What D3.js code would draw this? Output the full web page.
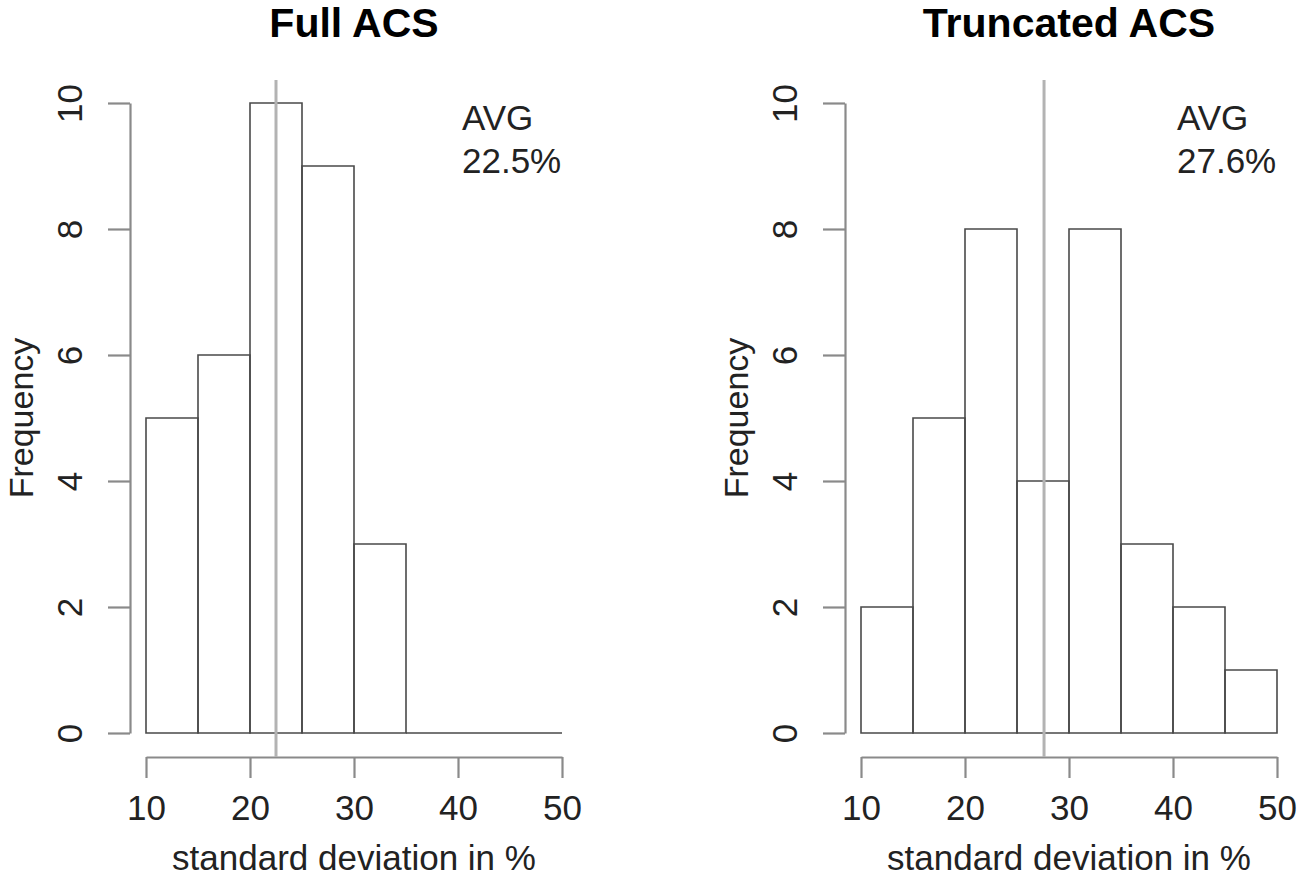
<!DOCTYPE html>
<html>
<head>
<meta charset="utf-8">
<script src="https://cdn.jsdelivr.net/npm/d3@7"></script>
<style>
  body { margin: 0; background: #fff; }
  svg text { font-family: "Liberation Sans", Arial, sans-serif; }
</style>
</head>
<body>
<div id="chart"></div>
<script>
// histogram bins (standard deviation in %)
const binEdges = [10, 15, 20, 25, 30, 35, 40, 45, 50];
const fullCounts = [5, 6, 10, 9, 3, 0, 0, 0];
const truncCounts = [2, 5, 8, 4, 8, 3, 2, 1];
const fullAvg = 22.5;
const truncAvg = 27.6;
const xTicks = [10, 20, 30, 40, 50];
const yTicks = [0, 2, 4, 6, 8, 10];
const panelTitles = ["Full ACS", "Truncated ACS"];

const W = 1299, H = 876;

const svg = d3.select("#chart")
  .append("svg")
  .attr("width", W)
  .attr("height", H);

const axisColor = "#8a8a8a";
const barColor = "#4a4a4a";
const meanColor = "#b3b3b3";
const textColor = "#222";

function drawPanel(left, title, counts, avg) {
  // left = pixel x of the y axis line
  const x = d3.scaleLinear().domain([10, 50]).range([left + 16, left + 432]);
  const y = d3.scaleLinear().domain([0, 10]).range([733, 103]);
  const axisY = 757;

  const g = svg.append("g");

  // bars (path so zero-height bins still show as a line)
  const bins = counts.map((c, i) => ({ lo: binEdges[i], hi: binEdges[i + 1], n: c }));
  g.append("g")
    .selectAll("path")
    .data(bins)
    .enter()
    .append("path")
    .attr("d", (d) => `M${x(d.lo)},${y(0)}V${y(d.n)}H${x(d.hi)}V${y(0)}Z`)
    .attr("fill", "none")
    .attr("stroke", barColor)
    .attr("stroke-width", 1.6);

  // y axis
  const yAxis = g.append("g")
    .attr("transform", `translate(${left},0)`)
    .call(d3.axisLeft(y).tickValues(yTicks).tickSize(22).tickSizeOuter(0));
  yAxis.selectAll("text")
    .attr("x", 0)
    .attr("dy", 0)
    .attr("text-anchor", "middle")
    .attr("transform", "translate(-48,0) rotate(-90)");

  // x axis
  const xAxis = g.append("g")
    .attr("transform", `translate(0,${axisY})`)
    .call(d3.axisBottom(x).tickValues(xTicks).tickSize(21).tickSizeOuter(0));
  xAxis.selectAll("text")
    .attr("y", 63)
    .attr("dy", 0);

  [yAxis, xAxis].forEach((a) => {
    a.select(".domain").attr("stroke", axisColor).attr("stroke-width", 2.2);
    a.selectAll(".tick line").attr("stroke", axisColor).attr("stroke-width", 2.2);
    a.selectAll("text")
      .attr("fill", textColor)
      .style("font-size", "35px")
      .style("font-family", "'Liberation Sans', Arial, sans-serif");
  });

  // mean line
  g.append("line")
    .attr("x1", x(avg))
    .attr("x2", x(avg))
    .attr("y1", y(10) - 23)
    .attr("y2", axisY)
    .attr("stroke", meanColor)
    .attr("stroke-width", 3);

  // AVG annotation
  const avgText = g.append("text")
    .attr("x", x(10) + 316)
    .attr("y", 130)
    .attr("fill", textColor)
    .style("font-size", "35px");
  avgText.append("tspan").attr("x", x(10) + 316).text("AVG");
  avgText.append("tspan").attr("x", x(10) + 316).attr("dy", 43).text(avg.toFixed(1) + "%");

  const cx = (x(10) + x(50)) / 2;

  // title
  g.append("text")
    .attr("x", cx)
    .attr("y", 37)
    .attr("text-anchor", "middle")
    .attr("fill", "#000")
    .style("font-size", "41px")
    .style("font-weight", "bold")
    .text(title);

  // x label
  g.append("text")
    .attr("x", cx)
    .attr("y", 870)
    .attr("text-anchor", "middle")
    .attr("fill", textColor)
    .style("font-size", "35px")
    .text("standard deviation in %");

  // y label
  g.append("text")
    .attr("transform", `translate(${left - 97},${y(5)}) rotate(-90)`)
    .attr("text-anchor", "middle")
    .attr("fill", textColor)
    .style("font-size", "34px")
    .text("Frequency");
}

drawPanel(130, panelTitles[0], fullCounts, fullAvg);
drawPanel(845, panelTitles[1], truncCounts, truncAvg);
</script>
</body>
</html>
